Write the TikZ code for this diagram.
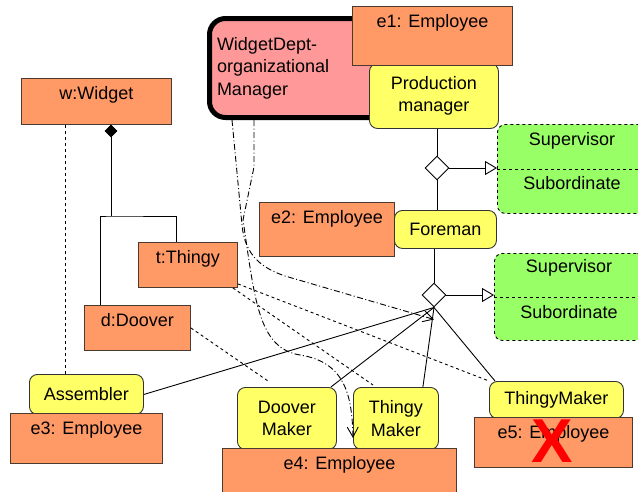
\documentclass[tikz,border=0pt]{standalone}
\usepackage{fontspec}
\setmainfont{Liberation Sans}
\usetikzlibrary{arrows.meta,shapes.geometric}

\definecolor{objfill}{HTML}{FF9966}
\definecolor{objline}{HTML}{4A3A30}
\definecolor{rolefill}{HTML}{FFFF66}
\definecolor{grpfill}{HTML}{99FF66}
\definecolor{mgrfill}{HTML}{FF9999}
\definecolor{xred}{HTML}{FF0000}

\tikzset{
    obj/.style 2 args={draw=objline, fill=objfill, anchor=north west, inner sep=0pt,
        minimum width=#1, text height=21pt, text depth=#2},
    role/.style 2 args={draw=black!80, fill=rolefill, rounded corners=8pt, anchor=north west,
        inner sep=0pt, minimum width=#1, minimum height=#2, align=center},
    grp/.style 2 args={draw, dashed, fill=grpfill, rounded corners=8pt, anchor=north west,
        minimum width=#1, minimum height=#2},
    assoc/.style={draw, fill=white, diamond, inner sep=0pt, minimum width=24pt, minimum height=24pt},
    dashdot/.style={dash pattern=on 6pt off 2.5pt on 1pt off 2.5pt},
    opentri/.style={-{Triangle[open, length=12pt, width=14pt]}},
    barb/.style={-{Straight Barb[length=10pt, width=11pt]}}
}

\begin{document}
\begin{tikzpicture}[x=1pt, y=-1pt, line width=0.9pt, font=\fontsize{18}{22.5}\selectfont]
    \useasboundingbox[fill=white] (0,0) rectangle (638,491);

    \node[draw, line width=5pt, fill=mgrfill, rounded corners=16pt, anchor=north west,
        minimum width=210pt, minimum height=99pt, text width=195pt, inner xsep=7.5pt, align=left]
        (mgr) at (207,16) {WidgetDept-\\organizational\\Manager};
    \node[role={129pt}{65pt}] (prod) at (369,63) {Production\\manager};
    \node[obj={160pt}{38pt}] (e1) at (352,6) {e1: Employee};

    \node[obj={150pt}{25pt}] (w) at (21,78) {w:Widget};
    \node[obj={99pt}{24pt}] (t) at (138,242) {t:Thingy};
    \node[obj={106pt}{24pt}] (d) at (84,305) {d:Doover};

    \node[obj={135pt}{33pt}] (e2) at (259,202) {e2: Employee};
    \node[role={102pt}{38pt}] (fore) at (394,210) {Foreman};

    \node[grp={150pt}{89pt}] (g1) at (497,124) {};
    \draw[dashed] (g1.west) -- (g1.east);
    \node (sup1) at (572,141) {Supervisor};
    \node (sub1) at (572,183) {Subordinate};

    \node[grp={150pt}{87pt}] (g2) at (494,253) {};
    \draw[dashed] (g2.west) -- (g2.east);
    \node (sup2) at (569,268) {Supervisor};
    \node (sub2) at (569,312) {Subordinate};

    \node[role={114pt}{40pt}] (asm) at (29,374) {Assembler};
    \node[obj={152pt}{29pt}] (e3) at (10,413) {e3: Employee};

    \node[role={99pt}{62pt}] (dmk) at (237,387) {Doover\\Maker};
    \node[role={85pt}{62pt}] (tmk) at (353,387) {Thingy\\Maker};
    \node[obj={234pt}{29pt}] (e4) at (222,448) {e4: Employee};

    \node[role={134pt}{37pt}] (thmk) at (489,381) {ThingyMaker};
    \node[obj={158pt}{29pt}] (e5) at (474,417) {e5: Employee};
    \node[text=xred, font=\fontsize{62}{62}\selectfont\bfseries] (cross) at (552,441) {X};

    \node[assoc] (d1) at (437,168) {};
    \node[assoc] (d2) at (434,295) {};
    \node[draw, fill=black, diamond, inner sep=0pt, minimum width=12pt, minimum height=12pt]
        (comp) at (111,131) {};

    \draw (d1.north) -- (d1.north |- prod.south);
    \draw (d1.south) -- (d1.south |- fore.north);
    \draw[opentri] (d1.east) -- (d1.east -| g1.west);
    \draw (d2.north) -- (d2.north |- fore.south);
    \draw[opentri] (d2.east) -- (d2.east -| g2.west);

    \draw (asm.east) -- (d2.south);
    \draw ([xshift=-6pt]dmk.north east) -- (d2.south);
    \draw ([xshift=-16pt]tmk.north east) -- (d2.south);
    \draw ([xshift=6pt]thmk.north west) -- (d2.south);

    \coordinate (fork) at (111,216);
    \draw (comp.south) -- (fork);
    \draw ([xshift=16pt]d.north west) |- (fork) -| ([xshift=38pt]t.north west);

    \draw[dashed] ([xshift=44pt]w.south west) -- ([xshift=44pt]w.south west |- asm.north);
    \draw[dashed] ([yshift=4pt]t.south east) -- (thmk.north west);
    \draw[dashed] ([xshift=-5pt]t.south east) -- ([xshift=20pt,yshift=2pt]tmk.north west);
    \draw[dashed] (d.east) -- ([xshift=31pt,yshift=6pt]dmk.north west);

    \draw[dashdot, barb] ([xshift=25pt]mgr.south west) -- (242,225)
        .. controls (245,256) and (262,268) .. (285,276) -- ([yshift=-12pt]d2.south);
    \draw[dashdot, barb] ([xshift=47pt]mgr.south west) -- (254,167) -- (243,220)
        .. controls (255,300) and (258,348) .. (300,355)
        .. controls (345,362) and (352,395) .. ([xshift=131pt,yshift=10pt]e4.north west);
\end{tikzpicture}
\end{document}
